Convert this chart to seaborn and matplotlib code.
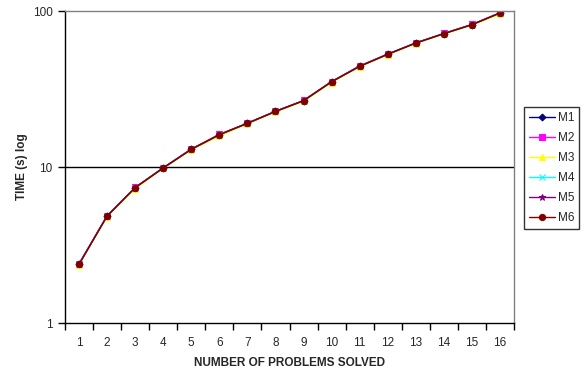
import numpy as np
import pandas as pd
import seaborn as sns
import matplotlib
matplotlib.use("Agg")
import matplotlib.pyplot as plt
from matplotlib.ticker import FixedLocator, NullFormatter, FixedFormatter

problems = list(range(1, 17))
m1 = [2.38, 4.85, 7.37, 9.86, 12.98, 16.1, 19.05, 22.7, 26.6, 35.2, 44.2, 52.8, 62.3, 71.6, 81.7, 97.1]
m2 = [2.40, 4.87, 7.40, 9.88, 13.05, 16.2, 19.1, 22.8, 26.7, 35.3, 44.5, 53.0, 62.5, 71.8, 82.0, 97.5]
m3 = [2.36, 4.80, 7.25, 9.80, 12.85, 15.8, 18.9, 22.5, 26.3, 34.8, 43.8, 52.3, 61.8, 71.0, 81.0, 95.5]
m4 = [2.38, 4.85, 7.37, 9.86, 12.98, 16.1, 19.05, 22.7, 26.6, 35.2, 44.2, 52.8, 62.3, 71.6, 81.7, 97.1]
m5 = [2.38, 4.85, 7.37, 9.86, 12.98, 16.1, 19.05, 22.7, 26.6, 35.2, 44.2, 52.8, 62.3, 71.6, 81.7, 97.1]
m6 = [2.38, 4.85, 7.37, 9.86, 12.98, 16.1, 19.05, 22.7, 26.6, 35.2, 44.2, 52.8, 62.3, 71.6, 81.7, 97.1]
series_names = ["M1", "M2", "M3", "M4", "M5", "M6"]
tick_labels = [str(p) for p in problems]

sns.set_style("white")
plt.rcParams['font.family'] = ['Liberation Sans', 'DejaVu Sans']

fig = plt.figure(figsize=(5.87, 3.72), dpi=100)
ax = fig.add_axes([65/587, 49/372, 449/587, 312/372])

colors = ["#000080", "#FF00FF", "#FFFF00", "#00FFFF", "#800080", "#800000"]
markers = ["D", "s", "^", "x", "*", "o"]
msizes = [3.5, 4, 4.5, 4, 5, 4.5]
values = [m1, m2, m3, m4, m5, m6]

for name, vals, c, mk, ms in zip(series_names, values, colors, markers, msizes):
    sns.lineplot(x=problems, y=vals, ax=ax, color=c, marker=mk, markersize=ms,
                 markeredgecolor=c, markerfacecolor=c, linewidth=1, label=name)

ax.set_yscale("log")
ax.set_ylim(1, 100)
ax.set_xlim(0.5, 16.5)

# y ticks
ax.yaxis.set_major_locator(FixedLocator([1, 10, 100]))
ax.yaxis.set_major_formatter(FixedFormatter(["1", "10", "100"]))
ax.yaxis.set_minor_locator(FixedLocator([]))
ax.tick_params(axis="y", which="major", direction="out", length=5, width=1, color="black",
               labelsize=8.5, pad=4, left=True)

# x ticks: marks at boundaries, labels at centres
ax.xaxis.set_major_locator(FixedLocator(np.arange(0.5, 17, 1)))
ax.xaxis.set_major_formatter(NullFormatter())
ax.xaxis.set_minor_locator(FixedLocator(problems))
ax.xaxis.set_minor_formatter(FixedFormatter(tick_labels))
ax.tick_params(axis="x", which="major", direction="out", length=5, width=1, color="black", bottom=True)
ax.tick_params(axis="x", which="minor", length=0, labelsize=8.5, pad=10, bottom=True)

# gridline at 10
ax.axhline(10, color="black", linewidth=1, zorder=0)

for side in ["top", "right"]:
    ax.spines[side].set_color("#808080")
    ax.spines[side].set_linewidth(1)
for side in ["left", "bottom"]:
    ax.spines[side].set_color("black")
    ax.spines[side].set_linewidth(1)
    ax.spines[side].set_visible(True)

ax.set_ylabel("TIME (s) log", fontsize=8.5, fontweight="bold", labelpad=3.5)
ax.set_xlabel("NUMBER OF PROBLEMS SOLVED", fontsize=8.5, fontweight="bold", labelpad=6)

ax.get_legend().remove()
handles, labels = ax.get_legend_handles_labels()
leg = fig.legend(handles, labels, loc="upper left", bbox_to_anchor=(524/587, 1 - 107/372),
                 frameon=True, fancybox=False, edgecolor="black", fontsize=8.5,
                 handlelength=2.2, handletextpad=0.3, labelspacing=0.68,
                 borderpad=0.4, borderaxespad=0)
leg.get_frame().set_linewidth(1)

fig.savefig("out.png", dpi=100)
